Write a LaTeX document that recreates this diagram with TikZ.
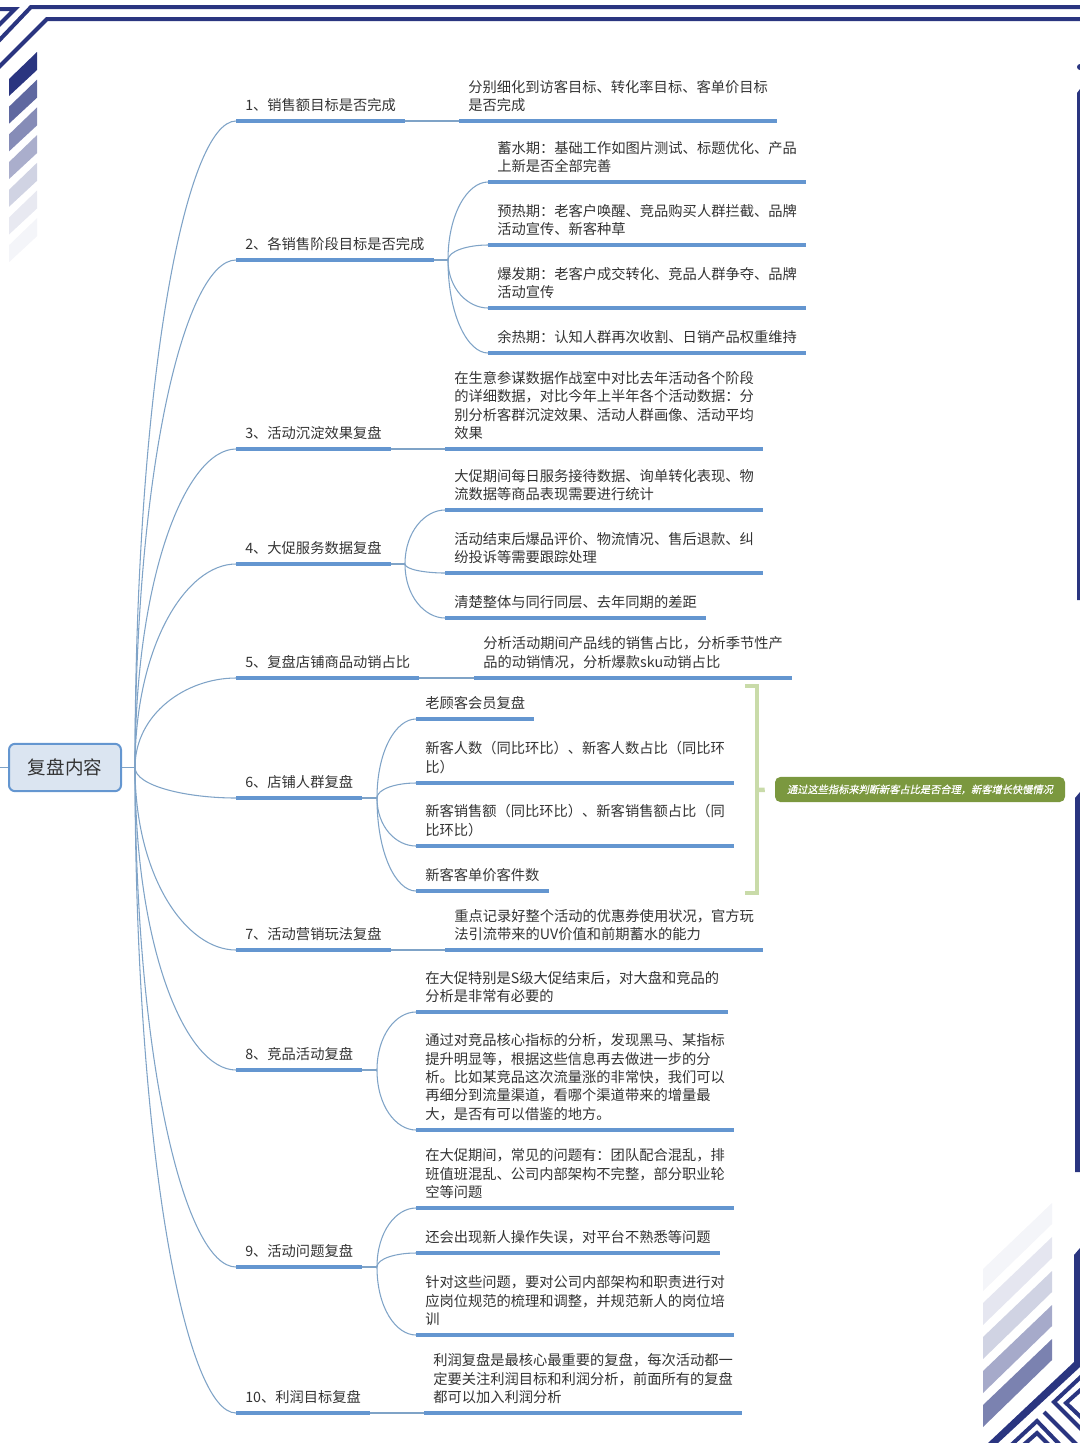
\documentclass[tikz,border=0pt]{standalone}
\usepackage{fontspec}
\setmainfont{Noto Sans CJK SC}
\newfontfamily\slantcjk[FakeSlant=0.2,FakeBold=0.5]{Noto Sans CJK SC}
\usetikzlibrary{calc}
\definecolor{navy}{HTML}{2A3580}
\definecolor{branchblue}{HTML}{7FA3C7}
\definecolor{lineblue}{HTML}{6496D0}
\definecolor{rootfill}{HTML}{DBE5F1}
\definecolor{bracketgreen}{HTML}{C9DBA9}
\definecolor{notegreen}{HTML}{7B983F}
\definecolor{inkgrey}{HTML}{333333}
\tikzset{
    root/.style={draw=lineblue, line width=1.5pt, fill=rootfill, rounded corners=4.5pt, minimum width=84pt, minimum height=35.5pt, inner sep=0pt, text=inkgrey, font=\fontsize{13.9pt}{16pt}\selectfont},
    topic/.style={anchor=south west, inner xsep=6.75pt, inner ysep=6.9pt, text=inkgrey, font=\fontsize{10.7pt}{13.7pt}\selectfont},
    leaf/.style={topic, align=left},
    topicline/.style={draw=lineblue, line width=2.5pt},
    leafline/.style={draw=lineblue, line width=2.3pt},
    branch/.style={draw=branchblue, line width=0.8pt},
    bracket/.style={draw=bracketgreen, line width=3.4pt},
    note/.style={fill=notegreen, rounded corners=4pt, minimum width=217.5pt, minimum height=18.8pt, inner sep=0pt, text=white, font=\slantcjk\fontsize{7.67pt}{9pt}\selectfont},
    deco/.style={draw=navy, line width=3pt},
}
\begin{document}
\begin{tikzpicture}[x=0.75pt, y=-0.75pt]
    \useasboundingbox (0,0) rectangle (1080,1443);

    % frame
    \begin{scope}
        \clip (0,0) rectangle (1080,1443);
        \draw[deco] (1080,7) -- (31,7) -- (-10,50);
        \draw[deco] (1080,19) -- (47,19) -- (-10,76);
        \draw[deco] (-5,9) -- (15,9) -- (-5,29);
        \foreach \i/\o in {0/100,1/75,2/57,3/40,4/22,5/11,6/5}
            \fill[navy, opacity=\o/100] (37,52+27.7*\i) -- (37,70+27.7*\i) -- (9,96+27.7*\i) -- (9,79+27.7*\i) -- cycle;
        \foreach \i/\o in {0/5,1/12,2/22,3/42,4/62}
            \fill[navy, opacity=\o/100] (1052,1203+34*\i) -- (1052,1224+34*\i) -- (983,1291+34*\i) -- (983,1269+34*\i) -- cycle;
        \fill[navy] (1080,67) circle (3);
        \fill[navy] (1077,93) -- (1080,89) -- (1080,600) -- (1077,600) -- cycle;
        \fill[navy] (1075,798) -- (1080,792) -- (1080,1172) -- (1075,1172) -- cycle;
        \fill[navy] (1074,1255) -- (1080,1248) -- (1080,1367) -- (998,1443) -- (988,1443) -- (1074,1362) -- cycle;
        \draw[deco] (1085,1373) -- (1054,1402) -- (1085,1433);
        \draw[deco] (1085,1386) -- (1066,1403) -- (1085,1421);
        \draw[deco] (1044,1412) -- (1080,1448);
        \draw[deco] (1008,1448) -- (1037,1421) -- (1063,1448);
        \draw[deco] (1020,1448) -- (1037,1433) -- (1052,1448);
    \end{scope}

    \node[root] (root) at (65,767.5) {复盘内容};
    \coordinate (edge) at (0,767.5);
    \coordinate (hub) at (135,767.5);

    \node[topic] (t1) at (236,121) {1、销售额目标是否完成};
    \node[topic] (t2) at (236,260) {2、各销售阶段目标是否完成};
    \node[topic] (t3) at (236,449) {3、活动沉淀效果复盘};
    \node[topic] (t4) at (236,564) {4、大促服务数据复盘};
    \node[topic] (t5) at (236,678) {5、复盘店铺商品动销占比};
    \node[topic] (t6) at (236,798) {6、店铺人群复盘};
    \node[topic] (t7) at (236,950) {7、活动营销玩法复盘};
    \node[topic] (t8) at (236,1070) {8、竞品活动复盘};
    \node[topic] (t9) at (236,1267) {9、活动问题复盘};
    \node[topic] (t10) at (236,1413) {10、利润目标复盘};

    \coordinate (j2) at (448,260);
    \coordinate (j4) at (405,564);
    \coordinate (j6) at (377,798);
    \coordinate (j8) at (377,1070);
    \coordinate (j9) at (377,1267);

    \node[leaf] (l1) at (459,121) {分别细化到访客目标、转化率目标、客单价目标\\是否完成};
    \node[leaf] (l2a) at (488,182) {蓄水期：基础工作如图片测试、标题优化、产品\\上新是否全部完善};
    \node[leaf] (l2b) at (488,245) {预热期：老客户唤醒、竞品购买人群拦截、品牌\\活动宣传、新客种草};
    \node[leaf] (l2c) at (488,308) {爆发期：老客户成交转化、竞品人群争夺、品牌\\活动宣传};
    \node[leaf] (l2d) at (488,353) {余热期：认知人群再次收割、日销产品权重维持};
    \node[leaf] (l3) at (445,449) {在生意参谋数据作战室中对比去年活动各个阶段\\的详细数据，对比今年上半年各个活动数据：分\\别分析客群沉淀效果、活动人群画像、活动平均\\效果};
    \node[leaf] (l4a) at (445,510) {大促期间每日服务接待数据、询单转化表现、物\\流数据等商品表现需要进行统计};
    \node[leaf] (l4b) at (445,573) {活动结束后爆品评价、物流情况、售后退款、纠\\纷投诉等需要跟踪处理};
    \node[leaf] (l4c) at (445,618) {清楚整体与同行同层、去年同期的差距};
    \node[leaf] (l5) at (474,678) {分析活动期间产品线的销售占比，分析季节性产\\品的动销情况，分析爆款sku动销占比};
    \node[leaf] (l6a) at (416,719) {老顾客会员复盘};
    \node[leaf] (l6b) at (416,783) {新客人数（同比环比）、新客人数占比（同比环\\比）};
    \node[leaf] (l6c) at (416,846) {新客销售额（同比环比）、新客销售额占比（同\\比环比）};
    \node[leaf] (l6d) at (416,891) {新客客单价客件数};
    \node[leaf] (l7) at (445,950) {重点记录好整个活动的优惠券使用状况，官方玩\\法引流带来的UV价值和前期蓄水的能力};
    \node[leaf] (l8a) at (416,1012) {在大促特别是S级大促结束后，对大盘和竞品的\\分析是非常有必要的};
    \node[leaf] (l8b) at (416,1130) {通过对竞品核心指标的分析，发现黑马、某指标\\提升明显等，根据这些信息再去做进一步的分\\析。比如某竞品这次流量涨的非常快，我们可以\\再细分到流量渠道，看哪个渠道带来的增量最\\大，是否有可以借鉴的地方。};
    \node[leaf] (l9a) at (416,1208) {在大促期间，常见的问题有：团队配合混乱，排\\班值班混乱、公司内部架构不完整，部分职业轮\\空等问题};
    \node[leaf] (l9b) at (416,1253) {还会出现新人操作失误，对平台不熟悉等问题};
    \node[leaf] (l9c) at (416,1335) {针对这些问题，要对公司内部架构和职责进行对\\应岗位规范的梳理和调整，并规范新人的岗位培\\训};
    \node[leaf] (l10) at (424,1413) {利润复盘是最核心最重要的复盘，每次活动都一\\定要关注利润目标和利润分析，前面所有的复盘\\都可以加入利润分析};

    \node[note] (note) at (920,789.5) {通过这些指标来判断新客占比是否合理，新客增长快慢情况};
    \coordinate (bracket top) at (745,686);
    \coordinate (bracket bottom) at (745,893);
    \coordinate (bracket mid) at (757,790);

    \draw[branch] (edge) -- (root.west);
    \draw[branch] (root.east) -- (hub);
    \foreach \n in {t1,t2,t3,t4,t5,t6,t7,t8,t9,t10}
        \draw[branch] (hub) .. controls ($(hub)!.6!(hub|-\n.south west)$) and ($(\n.south west)+(-50,0)$) .. (\n.south west);
    \foreach \a/\b in {t1/l1,t3/l3,t5/l5,t7/l7,t10/l10}
        \draw[branch] (\a.south east) -- (\b.south west);
    \foreach \a/\b in {t2/j2,t4/j4,t6/j6,t8/j8,t9/j9}
        \draw[branch] (\a.south east) -- (\b);
    \foreach \a/\b in {j2/l2a,j2/l2b,j2/l2c,j2/l2d,j4/l4a,j4/l4b,j4/l4c,j6/l6a,j6/l6b,j6/l6c,j6/l6d,j8/l8a,j8/l8b,j9/l9a,j9/l9b,j9/l9c}
        \draw[branch] (\a) .. controls ($(\a)!.6!(\a|-\b.south west)$) and ($(\b.south west)+(-20,0)$) .. (\b.south west);

    \foreach \n in {t1,t2,t3,t4,t5,t6,t7,t8,t9,t10}
        \draw[topicline] (\n.south west) -- (\n.south east);
    \foreach \n in {l1,l2a,l2b,l2c,l2d,l3,l4a,l4b,l4c,l5,l6a,l6b,l6c,l6d,l7,l8a,l8b,l9a,l9b,l9c,l10}
        \draw[leafline] (\n.south west) -- (\n.south east);

    \draw[bracket] (bracket top) -| (bracket mid) |- (bracket bottom);
    \draw[bracket, shorten >=7.5pt] (bracket mid) -- (note.west);
\end{tikzpicture}
\end{document}
